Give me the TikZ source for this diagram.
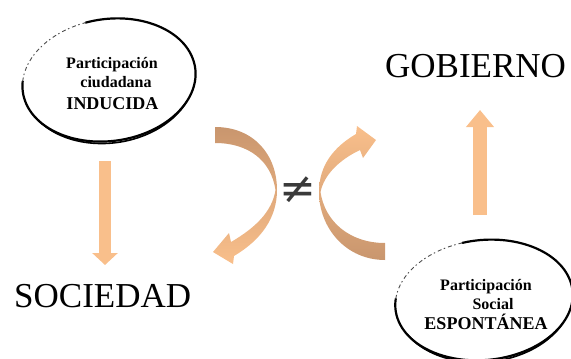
\documentclass[tikz,border=0pt]{standalone}
\usepackage{fontspec}
\setmainfont{Liberation Serif}
\newfontfamily\dejavu{DejaVu Sans}
\usetikzlibrary{arrows.meta}
\definecolor{peach}{HTML}{F9BF8B}
\definecolor{tanbrown}{HTML}{C9966E}
\definecolor{neqgray}{HTML}{3A3A3A}
\tikzset{
  bigword/.style={font=\fontsize{35}{40}\selectfont, inner sep=0pt, anchor=base west},
  smallbold/.style={font=\bfseries\fontsize{16}{19}\selectfont, inner sep=0pt, anchor=base},
  bigbold/.style={font=\bfseries\fontsize{18}{21}\selectfont, inner sep=0pt, anchor=base},
  ring/.style={line width=2.2pt, black, line cap=round},
  ringthick/.style={line width=1.6pt, black, line cap=round},
  scratch/.style={line width=0.9pt, black!70, dash pattern=on 4pt off 2.5pt on 1.5pt off 3pt},
  blockarrow/.style={draw=peach, line width=#1},
}
\begin{document}
\begin{tikzpicture}[x=1pt,y=1pt]
\useasboundingbox (0,0) rectangle (571,-359);

% ---- hand drawn ellipse 1
\begin{scope}[shift={(109,-80)}, rotate=8]
  \draw[ring] (100:87 and 61) arc[start angle=100, end angle=-190, x radius=87, y radius=61];
  \draw[ringthick] (205:86 and 63) arc[start angle=205, end angle=330, x radius=86, y radius=63];
  \draw[scratch] (170:87 and 61) arc[start angle=170, end angle=100, x radius=87, y radius=61];
\end{scope}
% ---- hand drawn ellipse 2
\begin{scope}[shift={(484,-300)}, rotate=6]
  \draw[ring] (100:89 and 60) arc[start angle=100, end angle=-190, x radius=89, y radius=60];
  \draw[ringthick] (205:88 and 62) arc[start angle=205, end angle=330, x radius=88, y radius=62];
  \draw[scratch] (170:89 and 60) arc[start angle=170, end angle=100, x radius=89, y radius=60];
\end{scope}

% ---- texts in ellipses
\node[smallbold] (e1a) at (112,-68) {Participación};
\node[smallbold] (e1b) at (116,-87) {ciudadana};
\node[bigbold]   (e1c) at (112.5,-109) {INDUCIDA};
\node[smallbold] (e2a) at (486,-290) {Participación};
\node[smallbold] (e2b) at (493,-309) {Social};
\node[bigbold]   (e2c) at (486,-329) {ESPONTÁNEA};

% ---- big words
\node[bigword] (soc) at (14,-307) {SOCIEDAD};
\node[bigword] (gob) at (385,-77) {GOBIERNO};

% ---- straight block arrows
\coordinate (d1) at (105,-161);
\coordinate (d2) at (105,-265);
\draw[blockarrow=12.5pt, -{Triangle[width=25pt,length=12pt,fill=peach]}] (d1) -- (d2);
\coordinate (u1) at (480,-215);
\coordinate (u2) at (480,-110);
\draw[blockarrow=14pt, -{Triangle[width=27pt,length=17pt,fill=peach]}] (u1) -- (u2);

% ---- curved arrows
\shade[top color=tanbrown, bottom color=peach]
  (215,-127) .. controls (254,-127) and (277,-155) .. (277,-190)
  .. controls (277,-218) and (261,-240) .. (234,-256)
  -- (233,-264) -- (213,-252) -- (229,-233) -- (231,-242)
  .. controls (255,-228) and (272,-212) .. (275.5,-190)
  .. controls (271,-160) and (248,-143) .. (215,-143) -- cycle;
\shade[top color=peach, bottom color=tanbrown]
  (385,-260) .. controls (346,-260) and (319,-228) .. (319,-192)
  .. controls (319,-165) and (334,-147) .. (356,-134)
  -- (357,-126) -- (376,-140) -- (363,-158) -- (360,-150)
  .. controls (339,-160) and (324,-175) .. (320.5,-192)
  .. controls (325,-222) and (350,-243) .. (385,-243) -- cycle;

% ---- not equal sign
\node[text=neqgray, font=\dejavu\fontsize{44}{46}\selectfont, inner sep=0pt] (neq) at (298,-190) {≠};
\end{tikzpicture}
\end{document}
